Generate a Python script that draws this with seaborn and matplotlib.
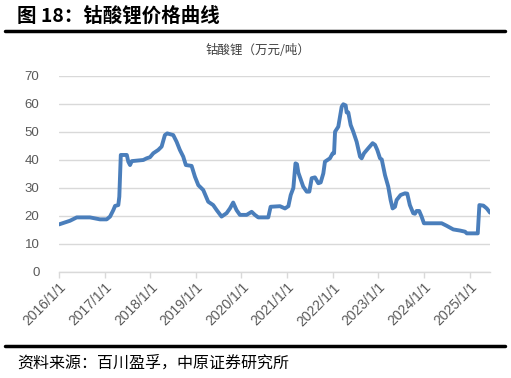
import matplotlib
matplotlib.use("Agg")
import matplotlib.pyplot as plt
import seaborn as sns
import pandas as pd

dates = [
    "2016-01-01", "2016-03-29", "2016-05-22", "2016-09-05", "2016-11-24", "2017-01-17",
    "2017-02-13", "2017-03-11", "2017-03-25", "2017-04-20", "2017-04-28", "2017-05-10",
    "2017-06-27", "2017-07-09", "2017-07-23", "2017-08-06", "2017-11-06", "2017-12-03",
    "2017-12-30", "2018-01-25", "2018-03-06", "2018-04-02", "2018-04-28", "2018-05-17",
    "2018-07-04", "2018-07-31", "2018-08-26", "2018-09-22", "2018-10-13", "2018-11-28",
    "2018-12-25", "2019-01-21", "2019-03-01", "2019-04-10", "2019-05-20", "2019-06-17",
    "2019-07-26", "2019-09-04", "2019-10-01", "2019-10-27", "2019-11-23", "2019-12-20",
    "2020-02-12", "2020-03-23", "2020-04-18", "2020-05-15", "2020-08-03", "2020-08-22",
    "2020-11-05", "2020-12-15", "2021-01-11", "2021-01-30", "2021-02-20", "2021-03-09",
    "2021-03-21", "2021-04-01", "2021-05-10", "2021-06-07", "2021-06-28", "2021-07-17",
    "2021-08-12", "2021-09-08", "2021-09-27", "2021-10-18", "2021-10-31", "2021-12-10",
    "2022-01-01", "2022-01-12", "2022-01-20", "2022-02-15", "2022-03-14", "2022-03-27",
    "2022-04-15", "2022-04-23", "2022-05-06", "2022-05-25", "2022-06-15", "2022-07-12",
    "2022-08-08", "2022-08-21", "2022-09-09", "2022-10-13", "2022-11-17", "2022-12-06",
    "2022-12-24", "2023-01-15", "2023-01-29", "2023-02-24", "2023-03-22", "2023-04-10",
    "2023-04-26", "2023-05-15", "2023-05-28", "2023-06-29", "2023-08-03", "2023-08-21",
    "2023-09-11", "2023-10-08", "2023-10-22", "2023-11-04", "2023-11-25", "2023-12-14",
    "2024-01-02", "2024-05-23", "2024-07-02", "2024-08-24", "2024-10-17", "2024-11-26",
    "2024-12-10", "2025-03-08", "2025-03-21", "2025-04-22", "2025-05-19", "2025-06-14",
]
prices = [
    17.0, 18.3, 19.5, 19.5, 18.8, 18.8,
    19.8, 22.1, 23.6, 23.9, 26.9, 41.8,
    41.8, 39.4, 38.2, 39.6, 40.0, 40.6,
    41.0, 42.4, 43.6, 44.8, 48.9, 49.5,
    48.9, 46.5, 43.6, 41.2, 38.2, 37.9,
    34.0, 31.0, 29.3, 25.1, 23.9, 22.1,
    19.8, 21.0, 22.7, 24.8, 22.1, 20.4,
    20.4, 21.5, 20.4, 19.5, 19.5, 23.3,
    23.5, 22.7, 23.5, 27.5, 30.0, 38.8,
    38.5, 35.5, 30.5, 28.7, 28.7, 33.5,
    33.8, 31.7, 32.0, 35.2, 39.4, 40.6,
    42.4, 42.4, 50.1, 51.9, 59.0, 59.9,
    59.5, 57.0, 57.0, 52.5, 50.1, 46.5,
    41.2, 40.6, 42.4, 44.2, 46.0, 45.4,
    43.6, 40.6, 40.2, 34.6, 30.5, 25.7,
    22.7, 23.3, 25.7, 27.5, 28.1, 28.0,
    23.9, 21.0, 20.8, 21.8, 21.8, 19.8,
    17.4, 17.4, 16.5, 15.2, 14.8, 14.4,
    13.8, 13.8, 23.9, 23.7, 22.7, 21.2,
]
tick_dates = ["2016-01-01", "2017-01-01", "2018-01-01", "2019-01-01", "2020-01-01",
              "2021-01-01", "2022-01-01", "2023-01-01", "2024-01-01", "2025-01-01"]
tick_labels = ["2016/1/1", "2017/1/1", "2018/1/1", "2019/1/1", "2020/1/1",
               "2021/1/1", "2022/1/1", "2023/1/1", "2024/1/1", "2025/1/1"]
y_ticks = [0, 10, 20, 30, 40, 50, 60, 70]

title = "图 18：钴酸锂价格曲线"
subtitle = "钴酸锂（万元/吨）"
source = "资料来源：百川盈孚，中原证券研究所"

sns.set_theme(style="white")
plt.rcParams["font.family"] = ["Noto Sans CJK SC", "DejaVu Sans"]

df = pd.DataFrame({"date": pd.to_datetime(dates), "price": prices})

fig = plt.figure(figsize=(5.11, 3.78), dpi=100)
ax = fig.add_axes([59 / 511, 1 - 272 / 378, (490 - 59) / 511, (272 - 76) / 378])

sns.lineplot(data=df, x="date", y="price", ax=ax, color="#4A7EBB", linewidth=2.8)

ax.set_xlim(pd.Timestamp("2016-01-01"), pd.Timestamp("2025-06-14"))
ax.set_ylim(0, 70)
ax.set_yticks(y_ticks)
ax.set_yticklabels([str(v) for v in y_ticks], fontsize=9.5, color="#595959",
                   family=["Liberation Sans", "DejaVu Sans"])
ax.set_xticks(pd.to_datetime(tick_dates))
ax.set_xticklabels(tick_labels, rotation=45, ha="right", rotation_mode="anchor",
                   fontsize=10, color="#595959", family=["Liberation Sans", "DejaVu Sans"])
ax.set_xlabel("")
ax.set_ylabel("")
ax.grid(axis="y", color="#D9D9D9", linewidth=1)
ax.grid(axis="x", visible=False)
for s in ["top", "right", "left"]:
    ax.spines[s].set_visible(False)
ax.spines["bottom"].set_color("#D9D9D9")
ax.spines["bottom"].set_linewidth(1)
ax.tick_params(axis="x", which="both", bottom=True, length=4, color="#D9D9D9", width=1, pad=2)
ax.tick_params(axis="y", left=False, pad=8)

fig.text(17 / 511, 1 - 16 / 378, title, fontsize=14, fontweight="bold", va="center",
         ha="left", color="black")
fig.add_artist(plt.Line2D([5 / 511, 505 / 511], [1 - 31 / 378, 1 - 31 / 378],
                          color="black", linewidth=2.5))
fig.text(258 / 511, 1 - 51 / 378, subtitle, fontsize=9, va="center", ha="center",
         color="#404040")
fig.add_artist(plt.Line2D([5 / 511, 505 / 511], [1 - 346 / 378, 1 - 346 / 378],
                          color="black", linewidth=2.5))
fig.text(17 / 511, 1 - 363 / 378, source, fontsize=11.5, va="center", ha="left",
         color="black")

fig.savefig("out.png", dpi=100)
